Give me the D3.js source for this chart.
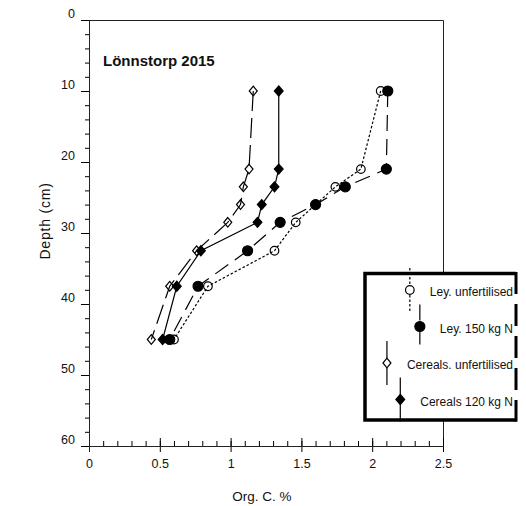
<!DOCTYPE html>
<html>
<head>
<meta charset="utf-8">
<script src="https://cdn.jsdelivr.net/npm/d3@7"></script>
<style>
body { margin: 0; background: #fff; }
text { font-family: "Liberation Sans", Arial, sans-serif; fill: #111; }
</style>
</head>
<body>
<div id="chart"></div>
<script>
//Depths (cm) and Org. C. %
var depthAll = [10, 21, 23.5, 26, 28.5, 32.5, 37.5, 45];
var depthLeyUnf = [10, 21, 23.5, 28.5, 32.5, 37.5, 45];
var leyUnfertilised = [2.06, 1.92, 1.74, 1.46, 1.31, 0.84, 0.60];
var ley150N = [2.11, 2.10, 1.81, 1.60, 1.35, 1.12, 0.77, 0.57];
var cerealsUnfertilised = [1.16, 1.13, 1.09, 1.07, 0.98, 0.76, 0.57, 0.44];
var cereals120N = [1.34, 1.34, 1.31, 1.22, 1.19, 0.79, 0.62, 0.52];

var seriesNames = ["Ley. unfertilised", "Ley. 150 kg N", "Cereals. unfertilised", "Cereals 120 kg N"];
var xTicks = [0, 0.5, 1, 1.5, 2, 2.5];
var yTicks = [0, 10, 20, 30, 40, 50, 60];
var chartTitle = "Lönnstorp 2015";
var xTitle = "Org. C. %";
var yTitle = "Depth (cm)";

//styles for each series
var series = [
    {name: seriesNames[0], depth: depthLeyUnf, values: leyUnfertilised, shape: "circle", filled: false, dash: "2.5,2"},
    {name: seriesNames[1], depth: depthAll, values: ley150N, shape: "circle", filled: true, dash: "16,8"},
    {name: seriesNames[2], depth: depthAll, values: cerealsUnfertilised, shape: "diamond", filled: false, dash: "20,7"},
    {name: seriesNames[3], depth: depthAll, values: cereals120N, shape: "diamond", filled: true, dash: null}
];

var width = 526, height = 506;

var svg = d3.select("#chart")
    .append("svg")
    .attr("width", width)
    .attr("height", height);

var x = d3.scaleLinear().domain([0, 2.5]).range([89, 443]);
var y = d3.scaleLinear().domain([0, 60]).range([20, 446]);

//marker path
function symbolPath(d) {
    if (d.shape == "circle") {
        var r = d.filled ? 5 : 4.3;
        return "M" + r + ",0A" + r + "," + r + " 0 1,1 " + (-r) + ",0A" + r + "," + r + " 0 1,1 " + r + ",0Z";
    }
    return d.filled ? "M0,-5L4.4,0L0,5L-4.4,0Z" : "M0,-4.8L4,0L0,4.8L-4,0Z";
}

//frame: top and right thin lines
svg.append("path")
    .attr("d", "M" + (x(0)) + "," + (y(0) + 0.5) + "H" + (x(2.5) + 0.5) + "V" + (y(60)))
    .attr("fill", "none")
    .attr("stroke", "#222")
    .attr("stroke-width", 1);

//y axis: minor ticks every 2, major every 10
svg.append("g")
    .attr("transform", "translate(" + x(0) + ",0)")
    .call(d3.axisLeft(y).tickValues(d3.range(0, 61, 2)).tickSize(4).tickFormat(""))
    .call(function(g) { g.select(".domain").remove(); });

var yAxis = svg.append("g")
    .attr("transform", "translate(" + x(0) + ",0)")
    .call(d3.axisLeft(y).tickValues(yTicks).tickSize(8).tickPadding(6));
yAxis.select(".domain").remove();
yAxis.selectAll("text").attr("dy", "-0.2em").attr("font-size", 12.5).attr("font-family", null);

//x axis: minor ticks point up, major ticks cross
svg.append("g")
    .attr("transform", "translate(0," + y(60) + ")")
    .call(d3.axisBottom(x).tickValues(d3.range(0, 26).map(function(i) { return i / 10; })).tickSize(-5).tickFormat(""))
    .call(function(g) { g.select(".domain").remove(); });

svg.append("g")
    .attr("transform", "translate(0," + y(60) + ")")
    .call(d3.axisBottom(x).tickValues(xTicks).tickSize(-8).tickFormat(""))
    .call(function(g) { g.select(".domain").remove(); });

var xAxis = svg.append("g")
    .attr("transform", "translate(0," + y(60) + ")")
    .call(d3.axisBottom(x).tickValues(xTicks).tickSize(6).tickPadding(7).tickFormat(d3.format("")));
xAxis.select(".domain").remove();
xAxis.selectAll("text").attr("font-size", 12.5).attr("font-family", null);

//axis lines
svg.append("line")
    .attr("x1", x(0) + 0.5).attr("x2", x(0) + 0.5)
    .attr("y1", y(0)).attr("y2", y(60) + 6)
    .attr("stroke", "#222");
svg.append("line")
    .attr("x1", x(0)).attr("x2", x(2.5) + 1)
    .attr("y1", y(60) + 0.5).attr("y2", y(60) + 0.5)
    .attr("stroke", "#222");

//titles
svg.append("text")
    .attr("x", 103)
    .attr("y", 66)
    .attr("font-size", 15)
    .attr("font-weight", "bold")
    .text(chartTitle);

svg.append("text")
    .attr("x", (x(0) + x(2.5)) / 2 - 4)
    .attr("y", 501)
    .attr("text-anchor", "middle")
    .attr("font-size", 13.5)
    .text(xTitle);

svg.append("text")
    .attr("transform", "translate(50," + 221 + ") rotate(-90)")
    .attr("text-anchor", "middle")
    .attr("font-size", 14)
    .attr("letter-spacing", 0.8)
    .text(yTitle);

//series lines and markers
var line = d3.line()
    .x(function(d) { return x(d[0]); })
    .y(function(d) { return y(d[1]); });

series.forEach(function(s) {
    var pts = s.values.map(function(v, i) { return [v, s.depth[i]]; });
    svg.append("path")
        .datum(pts)
        .attr("fill", "none")
        .attr("stroke", "#000")
        .attr("stroke-width", 1.2)
        .attr("stroke-dasharray", s.dash)
        .attr("d", line);

    svg.append("g")
        .selectAll("path")
        .data(pts)
        .enter().append("path")
        .attr("transform", function(d) { return "translate(" + x(d[0]) + "," + y(d[1]) + ")"; })
        .attr("d", symbolPath(s))
        .attr("fill", s.filled ? "#000" : "none")
        .attr("stroke", "#000")
        .attr("stroke-width", 1.2);
});

//legend box, right side drawn broken like the original
var lg = svg.append("g");
lg.append("rect")
    .attr("x", 365).attr("y", 273.5)
    .attr("width", 151).attr("height", 146.5)
    .attr("fill", "#fff");
lg.append("path")
    .attr("d", "M516,273.5H365V420H516")
    .attr("fill", "none")
    .attr("stroke", "#000")
    .attr("stroke-width", 3.5);
lg.append("line")
    .attr("x1", 516).attr("x2", 516)
    .attr("y1", 272).attr("y2", 421.7)
    .attr("stroke", "#000")
    .attr("stroke-width", 3)
    .attr("stroke-dasharray", "22,10");

series.forEach(function(s, i) {
    var rowY = 290 + i * 36.5;
    var t = lg.append("text")
        .attr("x", 513)
        .attr("y", rowY + 2)
        .attr("dy", "0.35em")
        .attr("text-anchor", "end")
        .attr("font-size", 12)
        .text(s.name);
    var sx = 513 - t.node().getComputedTextLength() - 20;
    lg.append("line")
        .attr("x1", sx).attr("x2", sx)
        .attr("y1", rowY - 22).attr("y2", rowY + 22)
        .attr("stroke", "#000")
        .attr("stroke-width", 1.2)
        .attr("stroke-dasharray", s.dash);
    lg.append("path")
        .attr("transform", "translate(" + sx + "," + rowY + ")")
        .attr("d", symbolPath(s))
        .attr("fill", s.filled ? "#000" : "#fff")
        .attr("stroke", "#000")
        .attr("stroke-width", 1.2);
});
</script>
</body>
</html>
